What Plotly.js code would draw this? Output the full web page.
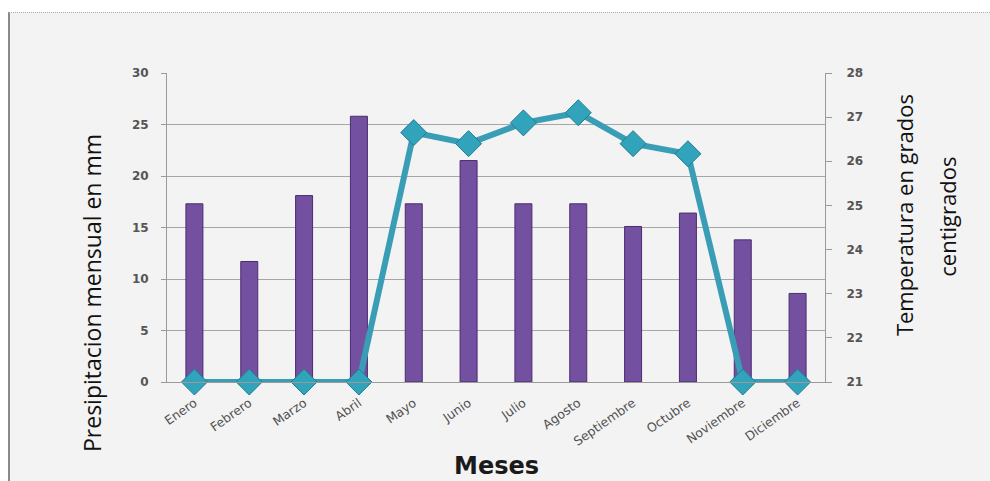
<!DOCTYPE html>
<html>
<head>
<meta charset="utf-8">
<script src="https://cdn.plot.ly/plotly-3.0.1.min.js"></script>
<style>
  html, body { margin: 0; padding: 0; background: #ffffff; width: 990px; height: 481px; overflow: hidden; }
  #frame { position: absolute; left: 8px; top: 12px; width: 982px; height: 469px;
           background: #f3f3f3; border-left: 2px solid #8a8a8a; border-top: 1px dotted #b0b0b0; box-sizing: border-box; }
  #chart { position: absolute; left: 0; top: 0; width: 990px; height: 481px; }
</style>
</head>
<body>
<div id="frame"></div>
<div id="chart"></div>
<script>
// Monthly rainfall (mm) and temperature (°C)
const meses = ["Enero", "Febrero", "Marzo", "Abril", "Mayo", "Junio", "Julio",
               "Agosto", "Septiembre", "Octubre", "Noviembre", "Diciembre"];
const precipitacion = [17.3, 11.7, 18.1, 25.8, 17.3, 21.5, 17.3, 17.3, 15.1, 16.4, 13.8, 8.6];
const temperatura = [21, 21, 21, 21, 26.65, 26.4, 26.87, 27.1, 26.4, 26.17, 21, 21];

const yTickFont = { family: "DejaVu Sans", size: 12, color: "#555555", weight: "bold" };
const xTickFont = { family: "DejaVu Sans", size: 12.5, color: "#505050" };
const titleFont = { family: "Open Sans, sans-serif", size: 23, color: "#111" };

const barras = {
  type: "bar", x: meses, y: precipitacion, yaxis: "y", width: 0.31,
  marker: { color: "#7450a0", line: { color: "#4b2d6e", width: 1 } },
  hoverinfo: "x+y", showlegend: false
};

const linea = {
  type: "scatter", mode: "lines+markers", x: meses, y: temperatura, yaxis: "y2",
  line: { color: "#3a9db6", width: 6 },
  marker: { symbol: "diamond", size: 20, color: "#31a3bb", line: { color: "#1f7d93", width: 1 } },
  cliponaxis: false, showlegend: false
};

const layout = {
  width: 990, height: 481,
  margin: { l: 167, r: 165, t: 73, b: 99 },
  paper_bgcolor: "rgba(0,0,0,0)", plot_bgcolor: "rgba(0,0,0,0)",
  xaxis: {
    range: [-0.5, 11.5], tickangle: -35, tickfont: xTickFont, showgrid: false,
    showline: true, linecolor: "#9a9a9a", linewidth: 1, ticks: "", ticklabelstandoff: 8
  },
  yaxis: {
    range: [0, 30], dtick: 5, tickfont: yTickFont,
    showgrid: true, gridcolor: "#a6a6a6", gridwidth: 1,
    showline: true, linecolor: "#9a9a9a", ticks: "outside", ticklen: 5, tickcolor: "#9a9a9a",
    ticklabelstandoff: 10, zeroline: false
  },
  yaxis2: {
    range: [21, 28], dtick: 1, overlaying: "y", side: "right", tickfont: yTickFont,
    showgrid: false, showline: true, linecolor: "#9a9a9a", ticks: "outside", ticklen: 6, tickcolor: "#9a9a9a",
    ticklabelstandoff: 12, zeroline: false
  },
  annotations: [
    { text: "Presipitacion mensual en mm", xref: "paper", yref: "paper", x: -0.114, y: 0.288,
      xanchor: "center", yanchor: "middle", textangle: -90, showarrow: false, font: titleFont },
    { text: "Temperatura en grados", xref: "paper", yref: "paper", x: 1.12, y: 0.540,
      xanchor: "center", yanchor: "middle", textangle: -90, showarrow: false, font: { ...titleFont, size: 22 } },
    { text: "centigrados", xref: "paper", yref: "paper", x: 1.185, y: 0.534,
      xanchor: "center", yanchor: "middle", textangle: -90, showarrow: false, font: { ...titleFont, size: 22 } },
    { text: "Meses", xref: "paper", yref: "paper", x: 0.5, y: -0.272,
      xanchor: "center", yanchor: "middle", showarrow: false,
      font: { family: "DejaVu Sans, sans-serif", size: 24, color: "#1a1a1a", weight: "bold" } }
  ]
};

Plotly.newPlot("chart", [barras, linea], layout, { displayModeBar: false, staticPlot: true });
</script>
</body>
</html>
